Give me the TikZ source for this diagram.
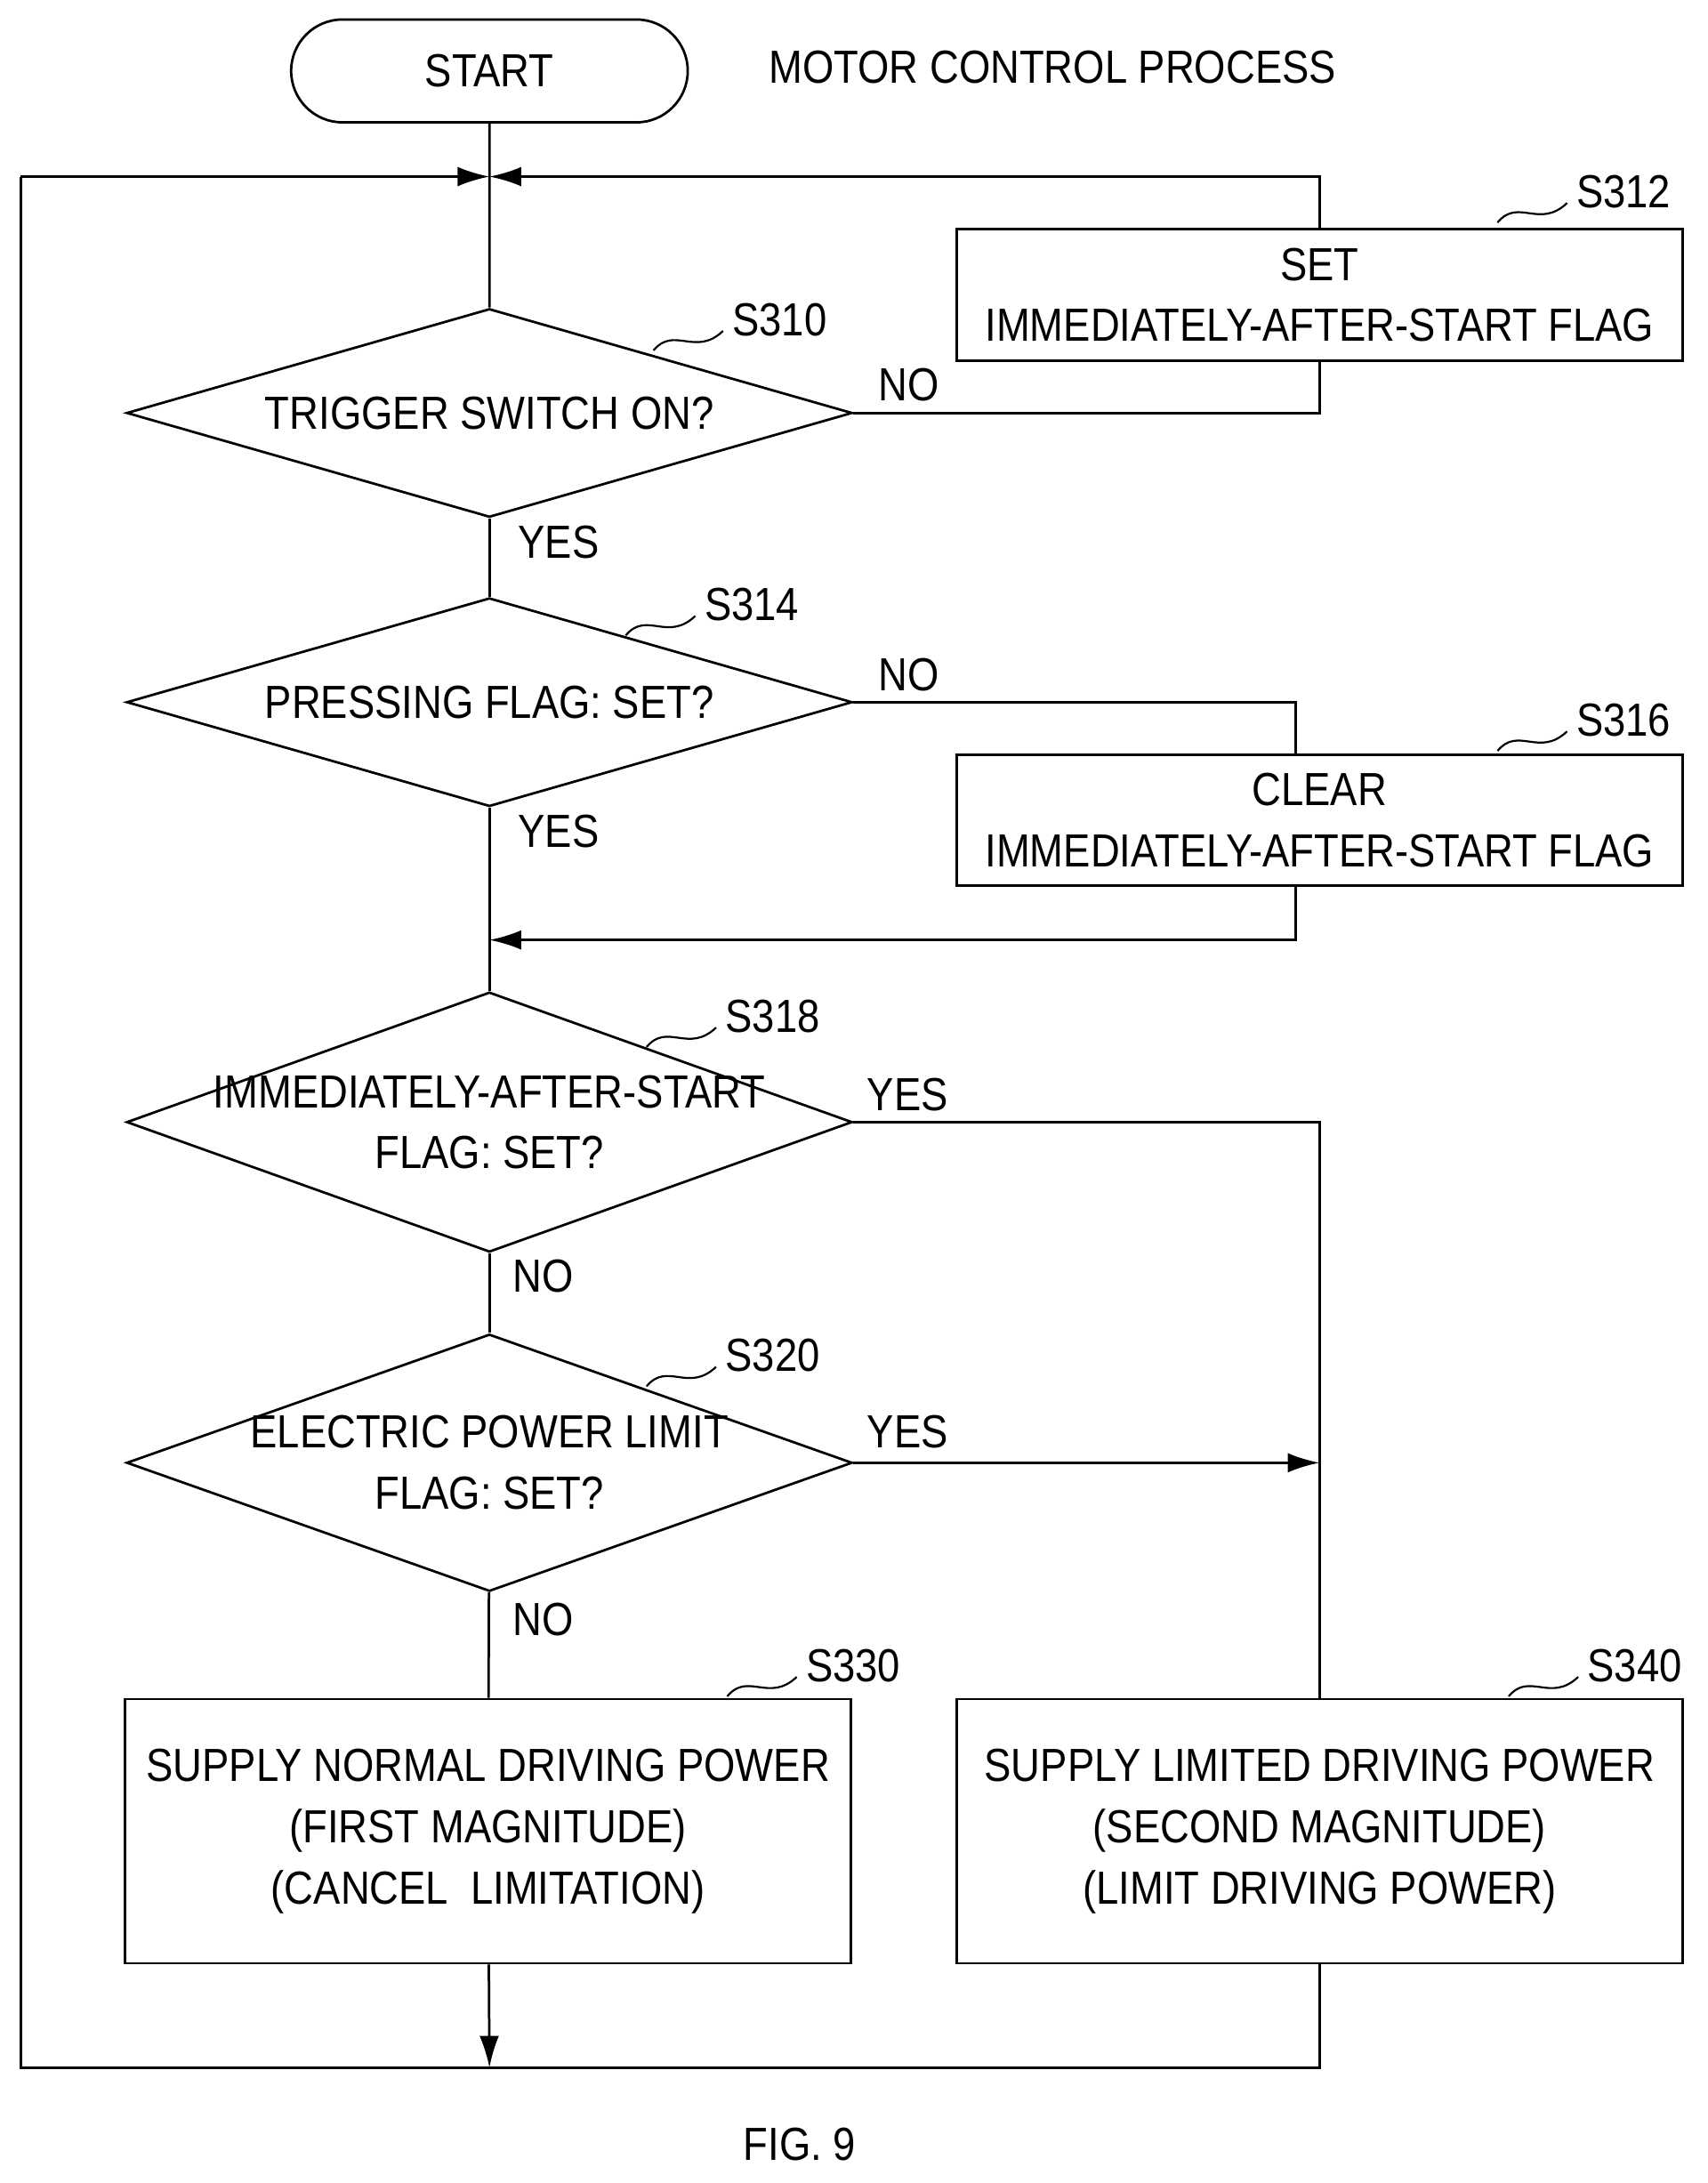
\documentclass[tikz,border=0pt]{standalone}
\usepackage{fontspec}
\setmainfont[FakeStretch=0.87]{Liberation Sans}
\usetikzlibrary{shapes.geometric,shapes.misc,arrows.meta}

\begin{document}
\begin{tikzpicture}
[x=0.02cm,y=-0.02cm,line width=1pt,
txt/.style={font=\fontsize{19}{25}\selectfont,align=center},
proc/.style={txt,draw,rectangle,minimum width=10.44cm,inner sep=0pt},
test/.style={txt,draw,diamond,aspect=3.5,inner sep=-0.35cm,minimum width=10.44cm},
tag/.style={txt,anchor=west},
arr/.style={-{Latex[length=13pt,width=8pt]}}]
\useasboundingbox (0,0) rectangle (1228,1570);
\node[txt,draw,rounded rectangle,minimum width=5.94cm,minimum height=1.48cm] (start) at (352,51) {START};
\node[txt] (title) at (757,48) {MOTOR CONTROL PROCESS};
\coordinate (join) at (352,127);
\node[test,minimum height=3cm] (s310) at (352,297) {TRIGGER SWITCH ON?};
\node[proc,minimum height=1.9cm] (s312) at (949,212) {SET\\IMMEDIATELY-AFTER-START FLAG};
\node[test,minimum height=3cm] (s314) at (352,505) {PRESSING FLAG: SET?};
\node[proc,minimum height=1.88cm] (s316) at (949,590) {CLEAR\\IMMEDIATELY-AFTER-START FLAG};
\coordinate (merge) at (352,676);
\node[test,minimum height=3.74cm] (s318) at (352,807) {IMMEDIATELY-AFTER-START\\FLAG: SET?};
\node[test,minimum height=3.7cm] (s320) at (352,1052) {ELECTRIC POWER LIMIT\\FLAG: SET?};
\node[proc,minimum height=3.8cm] (s330) at (351,1317) {SUPPLY NORMAL DRIVING POWER\\(FIRST MAGNITUDE)\\(CANCEL\ \ LIMITATION)};
\node[proc,minimum height=3.8cm] (s340) at (949,1317) {SUPPLY LIMITED DRIVING POWER\\(SECOND MAGNITUDE)\\(LIMIT DRIVING POWER)};
\coordinate (bottom) at (352,1487);
\node[txt] (fig) at (575,1542) {FIG. 9};
% lines
\draw (start) -- (s310);
\draw[arr] (15,127) -- (join);
\draw (bottom -| s340) -- (15,1487) -- (15,127);
\draw (s310.east) -- (s310.east -| s312) -- (s312);
\draw[arr] (s312) -- (s312.north |- join) -- (join);
\draw (s310) -- (s314);
\draw (s314.east) -- (s314.east -| 932,0) -- (932,543);
\draw[arr] (932,637) -- (932,676) -- (merge);
\draw (s314) -- (s318);
\draw (s318) -- (s320);
\draw (s318.east) -- (s318.east -| s340) -- (s340);
\draw[arr] (s320.east) -- (s320.east -| s340);
\draw (s320) -- (s330);
\draw[arr] (s330) -- (bottom);
\draw (s340) -- (bottom -| s340) -- (bottom);
% labels
\node[tag] at (625,277) {NO};
\node[tag] at (366,390) {YES};
\node[tag] at (625,485) {NO};
\node[tag] at (366,598) {YES};
\node[tag] at (617,787) {YES};
\node[tag] at (362,918) {NO};
\node[tag] at (617,1030) {YES};
\node[tag] at (362,1165) {NO};
% step tags
\foreach \n/\x/\y in {S310/470/252,S312/1077/160,S314/450/457,S316/1077/540,S318/465/753,S320/465/997,S330/523/1220,S340/1085/1220}
{\draw[line width=0.8pt] (\x,\y) .. controls (\x+15,\y-18) and (\x+30,\y+5) .. (\x+50,\y-14);
\node[tag] at (\x+50,\y-22) {\n};}
\end{tikzpicture}
\end{document}
